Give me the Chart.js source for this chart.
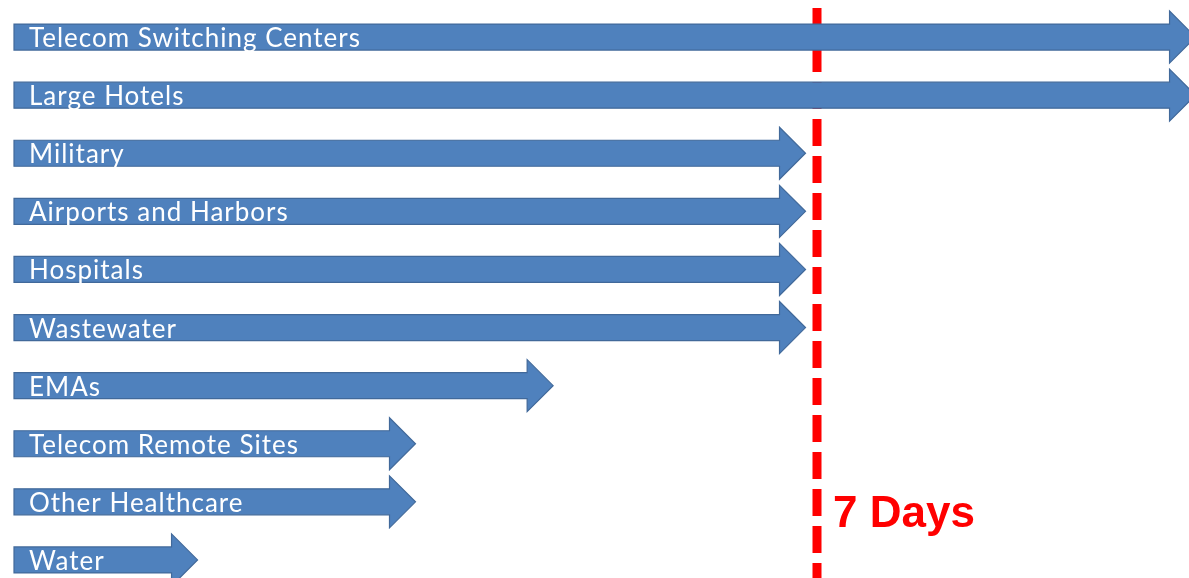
<!DOCTYPE html>
<html>
<head>
<meta charset="utf-8">
<script src="https://cdn.jsdelivr.net/npm/chart.js@4.4.1/dist/chart.umd.min.js"></script>
<style>
  html, body { margin: 0; padding: 0; background: #ffffff; overflow: hidden; }
  #wrap { position: relative; width: 1189px; height: 600px; }
</style>
</head>
<body>
<div id="wrap"><canvas id="c"></canvas></div>
<script>
// ---- data (days of backup power / duration) ----
const categories = [
  "Telecom Switching Centers",
  "Large Hotels",
  "Military",
  "Airports and Harbors",
  "Hospitals",
  "Wastewater",
  "EMAs",
  "Telecom Remote Sites",
  "Other Healthcare",
  "Water"
];
const durationDays = [10.3, 10.3, 6.9, 6.9, 6.9, 6.9, 4.7, 3.5, 3.5, 1.6];
const thresholdDays = 7;
const thresholdLabel = "7 Days";

// ---- styles ----
const ARROW_FILL = "#4F81BD";
const ARROW_STROKE = "#41699A";
const LABEL_FONT = "26px Lato, 'Open Sans', sans-serif";
const LINE_COLOR = "#FF0000";

const arrowPlugin = {
  id: "arrows",
  beforeDatasetsDraw(chart) {
    const ctx = chart.ctx;
    const xs = chart.scales.x;
    const x = Math.round(xs.getPixelForValue(thresholdDays));
    ctx.save();
    ctx.strokeStyle = LINE_COLOR;
    ctx.lineWidth = 9;
    ctx.setLineDash([27, 10]);
    ctx.beginPath();
    ctx.moveTo(x, 8);
    ctx.lineTo(x, chart.height);
    ctx.stroke();
    ctx.restore();
  },
  afterDatasetsDraw(chart) {
    const ctx = chart.ctx;
    const meta = chart.getDatasetMeta(0);
    ctx.save();
    meta.data.forEach((el, i) => {
      const tip = el.x, base = el.base, y = el.y, h = el.height;
      const headLen = h;
      ctx.beginPath();
      ctx.moveTo(base, y - h / 2);
      ctx.lineTo(tip - headLen, y - h / 2);
      ctx.lineTo(tip - headLen, y - h);
      ctx.lineTo(tip, y);
      ctx.lineTo(tip - headLen, y + h);
      ctx.lineTo(tip - headLen, y + h / 2);
      ctx.lineTo(base, y + h / 2);
      ctx.closePath();
      ctx.fillStyle = ARROW_FILL;
      ctx.fill();
      ctx.lineWidth = 1.2;
      ctx.strokeStyle = ARROW_STROKE;
      ctx.stroke();
      ctx.fillStyle = "#FFFFFF";
      ctx.font = LABEL_FONT;
      ctx.letterSpacing = "1px";
      ctx.textBaseline = "alphabetic";
      ctx.textAlign = "left";
      ctx.fillText(categories[i], base + 15, y + 10);
    });
    // threshold label
    const xs = chart.scales.x;
    const lx = xs.getPixelForValue(thresholdDays);
    ctx.letterSpacing = "0px";
    ctx.fillStyle = LINE_COLOR;
    ctx.font = "bold 44px 'Liberation Sans', Arial, sans-serif";
    ctx.fillText(thresholdLabel, lx + 16, 527);
    ctx.restore();
  }
};

new Chart(document.getElementById("c"), {
  type: "bar",
  data: {
    labels: categories,
    datasets: [{
      data: durationDays,
      backgroundColor: "rgba(0,0,0,0)",
      borderWidth: 0,
      barThickness: 26
    }]
  },
  options: {
    indexAxis: "y",
    responsive: true,
    maintainAspectRatio: false,
    animation: false,
    layout: { padding: { left: 14, right: 0, top: 8, bottom: 11 } },
    plugins: { legend: { display: false }, tooltip: { enabled: false } },
    scales: {
      x: { display: false, min: 0, max: 10.243 },
      y: { display: false }
    },
    datasets: { bar: { clip: false } }
  },
  plugins: [arrowPlugin]
});
</script>
</body>
</html>
